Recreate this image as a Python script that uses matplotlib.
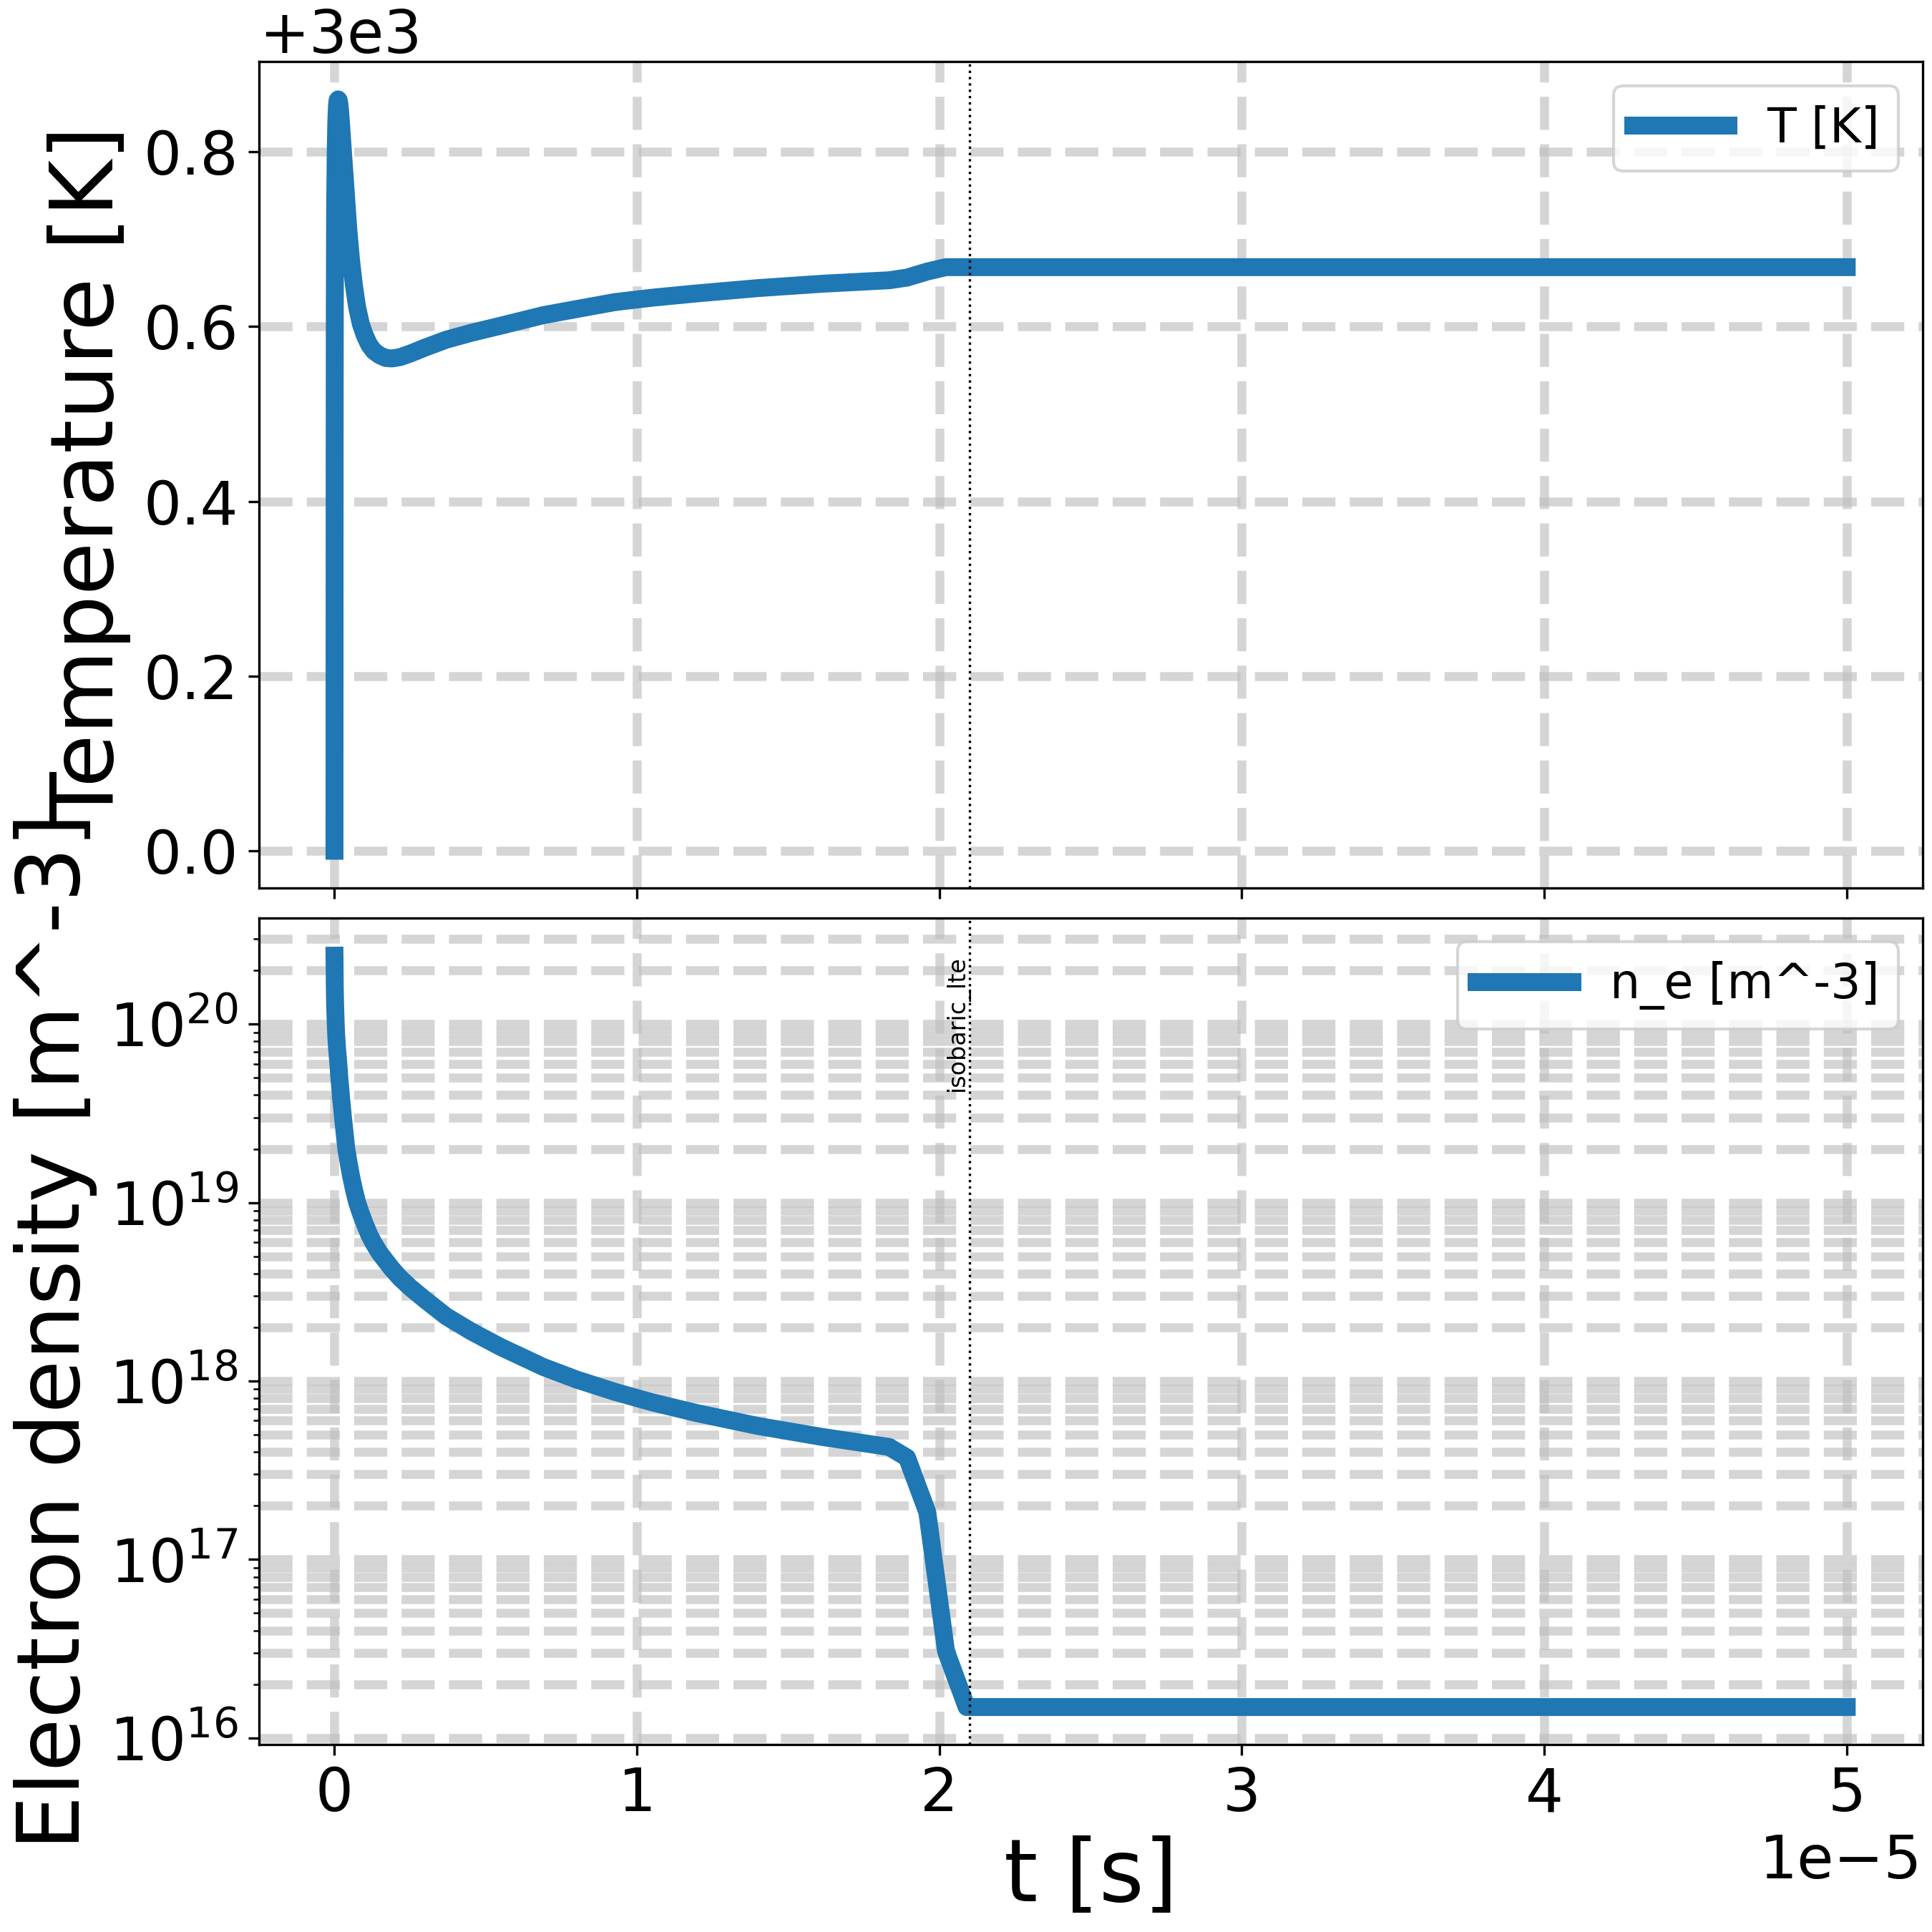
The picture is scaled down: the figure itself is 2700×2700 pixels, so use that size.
import numpy as np
import matplotlib
matplotlib.use("Agg")
import matplotlib.pyplot as plt

# simulation output (time in s)
t_s = [0.0, 5e-9, 1e-8, 2e-8, 4e-8, 6e-8, 8e-8, 1.0e-7, 1.2e-7, 1.4e-7, 1.6e-7,
       1.9e-7, 2.2e-7, 2.5e-7, 2.8e-7, 3.3e-7, 3.9e-7, 4.6e-7, 5.5e-7, 6.5e-7,
       7.5e-7, 8.7e-7, 1.0e-6, 1.15e-6, 1.3e-6, 1.5e-6, 1.7e-6, 1.9e-6, 2.17e-6,
       2.5e-6, 3.0e-6, 3.7e-6, 4.54e-6, 5.5e-6, 6.9e-6, 8.0e-6, 9.27e-6, 1.05e-5,
       1.2e-5, 1.4e-5, 1.613e-5, 1.834e-5, 1.893e-5, 1.96e-5, 2.022e-5, 2.09e-5,
       5.0e-5]
T_K = [3000.0, 3000.45, 3000.62, 3000.73, 3000.80, 3000.835, 3000.852, 3000.859,
       3000.86, 3000.859, 3000.855, 3000.845, 3000.83, 3000.815, 3000.80, 3000.775,
       3000.745, 3000.71, 3000.675, 3000.645, 3000.622, 3000.603, 3000.59, 3000.579,
       3000.572, 3000.567, 3000.564, 3000.5635, 3000.565, 3000.569, 3000.576,
       3000.585, 3000.593, 3000.601, 3000.613, 3000.620, 3000.628, 3000.633,
       3000.638, 3000.644, 3000.649, 3000.653, 3000.656, 3000.663, 3000.668,
       3000.668, 3000.668]
n_e = [2.42e20, 2.0e20, 1.6e20, 1.3e20, 1.0e20, 8.5e19, 7.5e19, 6.8e19, 6.2e19,
       5.6e19, 5.0e19, 4.4e19, 3.8e19, 3.4e19, 3.0e19, 2.5e19, 2.0e19, 1.7e19,
       1.4e19, 1.17e19, 1.0e19, 8.7e18, 7.6e18, 6.6e18, 5.9e18, 5.2e18, 4.7e18,
       4.25e18, 3.78e18, 3.35e18, 2.85e18, 2.3e18, 1.89e18, 1.55e18, 1.2e18,
       1.02e18, 8.7e17, 7.6e17, 6.6e17, 5.6e17, 4.86e17, 4.27e17, 3.72e17, 1.84e17,
       3.06e16, 1.49e16, 1.49e16]
t_switch = 2.1e-5
switch_label = "isobaric_lte"

grid_kw = dict(linestyle="--", linewidth=3, color="#bfbfbf", alpha=0.65)

fig, (ax1, ax2) = plt.subplots(2, 1, figsize=(9, 9), dpi=300, sharex=True)
fig.subplots_adjust(left=0.134, right=0.995, top=0.968, bottom=0.097, hspace=0.036)

ax1.plot(t_s, T_K, lw=6, color="C0", label="T [K]")
ax1.axvline(t_switch, color="black", linestyle=":", linewidth=0.8)
ax1.set_ylabel("Temperature [K]", fontsize=29)
ax1.grid(True, which="both", **grid_kw)
ax1.legend(loc="upper right", fontsize=16)

ax2.plot(t_s, n_e, lw=6, color="C0", label="n_e [m^-3]")
ax2.set_yscale("log")
ax2.axvline(t_switch, color="black", linestyle=":", linewidth=0.8)
ax2.text(t_switch, n_e[0], switch_label, rotation=90, va="top", ha="right", fontsize=8)
ax2.set_ylabel("Electron density [m^-3]", fontsize=29)
ax2.set_xlabel("t [s]", fontsize=29)
ax2.grid(True, which="both", **grid_kw)
ax2.legend(loc="upper right", fontsize=16)

for ax in (ax1, ax2):
    ax.tick_params(labelsize=20)
    ax.yaxis.get_offset_text().set_fontsize(20)
    ax.xaxis.get_offset_text().set_fontsize(20)

fig.savefig("out.png", dpi=300)
